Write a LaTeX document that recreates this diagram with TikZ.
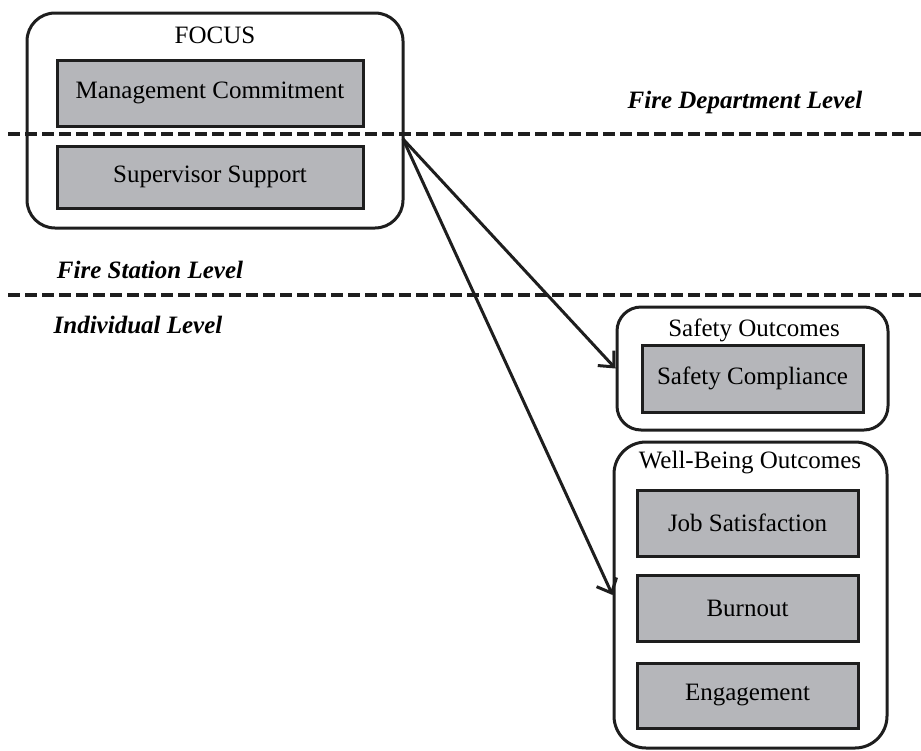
\documentclass[tikz,border=0pt]{standalone}
\usepackage{fontspec}
\setmainfont{Liberation Serif}
\usetikzlibrary{arrows.meta, positioning}
\definecolor{BoxG}{RGB}{181,182,186}
\definecolor{DK}{RGB}{30,30,30}

\begin{document}
\begin{tikzpicture}[
  x=0.5pt, y=-0.5pt,
  group/.style={draw=DK, line width=1.5pt, rounded corners=14pt,
                minimum width=#1},
  var/.style={draw=DK, fill=BoxG, line width=1.5pt, minimum width=#1,
              minimum height=33pt, font=\fontsize{12.5}{15}\selectfont},
  title/.style={font=\fontsize{12.5}{15}\selectfont},
  lvl/.style={font=\fontsize{12.5}{15}\selectfont\bfseries\itshape},
  level/.style={draw=DK, line width=2pt, dash pattern=on 6pt off 2.5pt},
  link/.style={-{Straight Barb[length=6pt, width=11pt, line width=1.5pt]},
               draw=DK, line width=1.5pt}
]
\useasboundingbox (0,0) rectangle (921,750);

% Level borders
\draw[level] (8,134) -- (921,134);
\draw[level] (8,295) -- (921,295);

% Level labels
\node[lvl] (deptlvl) at (745,102) {Fire Department Level};
\node[lvl] (statlvl) at (150,270) {Fire Station Level};
\node[lvl] (indlvl)  at (138,325) {Individual Level};

% FOCUS
\node[group=188pt, minimum height=107.5pt] (focus) at (215,120.5) {};
\node[title] (focuslbl) at (215,35) {FOCUS};
\node[var=153pt] (mgmt) at (210,93) {Management Commitment};
\node[var=153pt, minimum height=31pt] (sup) at (210,177) {Supervisor Support};

% Safety outcomes
\node[group=135.5pt, minimum height=61.5pt, rounded corners=12pt] (safe) at (752.5,368.5) {};
\node[title] (safelbl) at (754,330) {Safety Outcomes};
\node[var=110.5pt, minimum height=33.5pt] (comply) at (752.5,378.5) {Safety Compliance};

% Well-being outcomes
\node[group=136.5pt, minimum height=153pt, rounded corners=16pt] (well) at (750.5,595) {};
\node[title] (welllbl) at (750,463) {Well-Being Outcomes};
\node[var=110.5pt] (job)  at (747.5,523)   {Job Satisfaction};
\node[var=110.5pt] (burn) at (747.5,608)   {Burnout};
\node[var=110.5pt, minimum height=32.5pt] (engage) at (747.5,695.5) {Engagement};

% Paths
\coordinate (src) at (403,139);
\draw[link] (src) -- (safe.west);
\draw[link] (src) -- (well.west);
\end{tikzpicture}
\end{document}
